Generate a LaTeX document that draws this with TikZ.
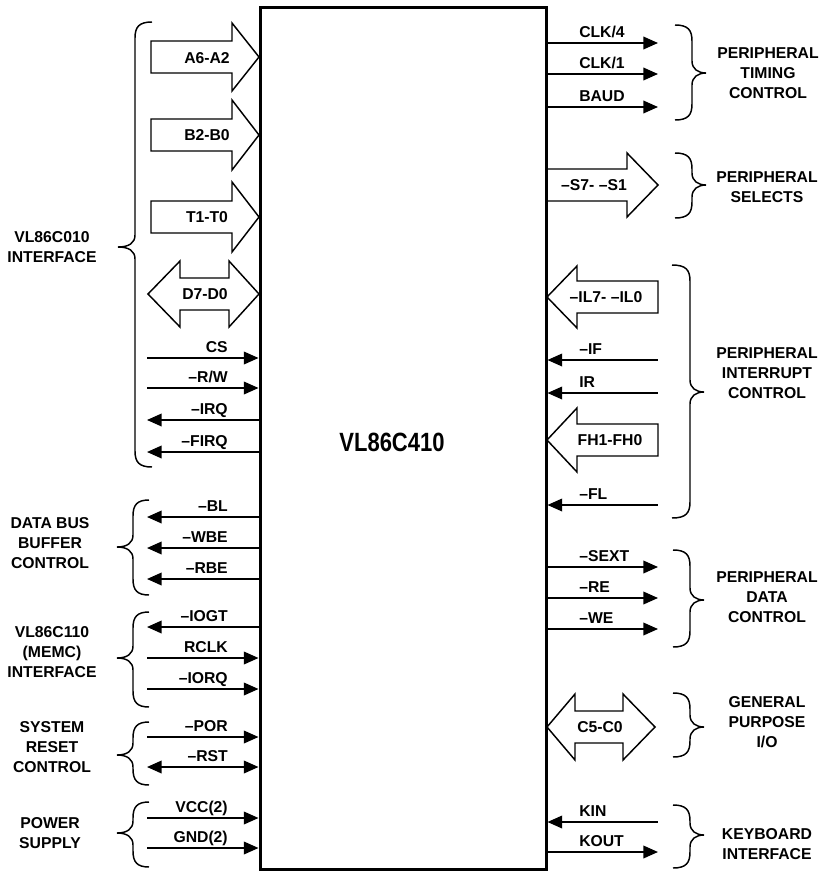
\documentclass[tikz,border=0pt]{standalone}
\usepackage{fontspec}
\setmainfont{Liberation Sans}
\usetikzlibrary{arrows.meta}
\newcommand\Lsig[3]{%
  \coordinate (lc#1) at (147,#1);
  \draw[sig,#3] (lc#1) -- (chip.west |- lc#1);
  \node[lbl,anchor=base east] (lt#1) at (228,#1-6) {#2};}
\newcommand\Rsig[3]{%
  \coordinate (rc#1) at (658,#1);
  \draw[sig,#3] (chip.east |- rc#1) -- (rc#1);
  \node[lbl,anchor=base west] (rt#1) at (579,#1-6) {#2};}
% left brace: body x, end x, tip x, top y, tip y, bottom y
\newcommand\Lbr[6]{%
  \draw[brace] (#2,#4) .. controls (#1+4,#4) and (#1,#4+5) .. (#1,#4+16)
    -- (#1,#5-12) .. controls (#1,#5-4) and (#1-6,#5) .. (#3,#5)
    .. controls (#1-6,#5) and (#1,#5+4) .. (#1,#5+12)
    -- (#1,#6-16) .. controls (#1,#6-5) and (#1+4,#6) .. (#2,#6);}
\newcommand\Rbr[6]{%
  \draw[brace] (#2,#4) .. controls (#1-4,#4) and (#1,#4+5) .. (#1,#4+16)
    -- (#1,#5-12) .. controls (#1,#5-4) and (#1+6,#5) .. (#3,#5)
    .. controls (#1+6,#5) and (#1,#5+4) .. (#1,#5+12)
    -- (#1,#6-16) .. controls (#1,#6-5) and (#1-4,#6) .. (#2,#6);}
% fat arrow to the right: body start x, head back x, tip x, y, head half
\newcommand\FatR[5]{%
  \draw[fat] (#1,#4-16) -- (#2,#4-16) -- (#2,#4-#5) -- (#3,#4) -- (#2,#4+#5) -- (#2,#4+16) -- (#1,#4+16) -- cycle;}
% fat arrow to the left (tip at chip): tip x, head back x, body end x, y, head half
\newcommand\FatL[5]{%
  \draw[fat] (#1,#4) -- (#2,#4-#5) -- (#2,#4-16) -- (#3,#4-16) -- (#3,#4+16) -- (#2,#4+16) -- (#2,#4+#5) -- cycle;}
% double fat arrow: left tip, left back, right back, right tip, y, head half
\newcommand\FatD[6]{%
  \draw[fat] (#1,#5) -- (#2,#5-#6) -- (#2,#5-16) -- (#3,#5-16) -- (#3,#5-#6) -- (#4,#5)
    -- (#3,#5+#6) -- (#3,#5+16) -- (#2,#5+16) -- (#2,#5+#6) -- cycle;}
\begin{document}
\begin{tikzpicture}[x=0.75pt,y=-0.75pt,
  font=\bfseries\fontsize{11.8}{15}\selectfont,
  >={Triangle[length=11pt,width=9.5pt]},
  sig/.style={line width=1.2pt},
  fat/.style={line width=1.1pt,line join=miter},
  brace/.style={line width=1.1pt},
  lbl/.style={inner sep=0pt},
  grp/.style={align=center,inner sep=0pt}]
\useasboundingbox (0,0) rectangle (826,882);
\node[draw,line width=2.25pt,minimum width=214.5pt,minimum height=646.5pt,inner sep=0pt] (chip) at (403,438) {};
\node[font=\bfseries\fontsize{16.5}{18}\selectfont] (title) at (392,442) {\scalebox{1}[1.2]{VL86C410}};

% left fat arrows
\FatR{151}{232}{259}{57}{34}
\node[lbl] (fa1) at (207,58) {A6-A2};
\FatR{151}{232}{259}{135}{35}
\node[lbl] (fa2) at (207,135) {B2-B0};
\FatR{151}{232}{259}{217}{35}
\node[lbl] (fa3) at (207,217) {T1-T0};
\FatD{148}{180}{229}{259}{294}{33}
\node[lbl] (fa4) at (205,294) {D7-D0};

% left signals
\Lsig{358}{CS}{->}
\Lsig{388}{–R/W}{->}
\Lsig{420}{–IRQ}{<-}
\Lsig{452}{–FIRQ}{<-}
\Lsig{517}{–BL}{<-}
\Lsig{548}{–WBE}{<-}
\Lsig{579}{–RBE}{<-}
\Lsig{627}{–IOGT}{<-}
\Lsig{658}{RCLK}{->}
\Lsig{689}{–IORQ}{->}
\Lsig{737}{–POR}{->}
\Lsig{767}{–RST}{<->}
\Lsig{818}{VCC(2)}{->}
\Lsig{848}{GND(2)}{->}

% left braces
\Lbr{135}{152}{118}{22}{247}{467}
\Lbr{133}{149}{117}{500}{547}{595}
\Lbr{133}{149}{117}{612}{658}{707}
\Lbr{133}{149}{117}{722}{755}{785}
\Lbr{133}{149}{117}{802}{833}{867}

\node[grp] (g1) at (52,247) {VL86C010\\INTERFACE};
\node[grp] (g2) at (50,543) {DATA BUS\\BUFFER\\CONTROL};
\node[grp] (g3) at (52,652) {VL86C110\\(MEMC)\\INTERFACE};
\node[grp] (g4) at (52,747) {SYSTEM\\RESET\\CONTROL};
\node[grp] (g5) at (50,833) {POWER\\SUPPLY};

% right signals
\Rsig{43}{CLK/4}{->}
\Rsig{74}{CLK/1}{->}
\Rsig{107}{BAUD}{->}
\Rsig{360}{–IF}{<-}
\Rsig{393}{IR}{<-}
\Rsig{505}{–FL}{<-}
\Rsig{567}{–SEXT}{->}
\Rsig{598}{–RE}{->}
\Rsig{629}{–WE}{->}
\Rsig{822}{KIN}{<-}
\Rsig{852}{KOUT}{->}

% right fat arrows
\draw[fat] (547,169) -- (627,169) -- (627,153) -- (658,185) -- (627,217) -- (627,201) -- (547,201);
\node[lbl] (fb1) at (594,185) {–S7- –S1};
\FatL{547}{577}{658}{297}{31}
\node[lbl] (fb2) at (606,297) {–IL7- –IL0};
\FatL{547}{577}{658}{440}{32}
\node[lbl] (fb3) at (610,440) {FH1-FH0};
\FatD{547}{575}{623}{655}{727}{33}
\node[lbl] (fb4) at (600,727) {C5-C0};

% right braces
\Rbr{692}{675}{706}{25}{73}{120}
\Rbr{692}{675}{706}{153}{185}{218}
\Rbr{690}{672}{704}{265}{392}{518}
\Rbr{690}{673}{704}{550}{600}{647}
\Rbr{690}{673}{704}{693}{727}{757}
\Rbr{690}{673}{704}{805}{835}{868}

\node[grp] (h1) at (768,73) {PERIPHERAL\\TIMING\\CONTROL};
\node[grp] (h2) at (767,187) {PERIPHERAL\\SELECTS};
\node[grp] (h3) at (767,373) {PERIPHERAL\\INTERRUPT\\CONTROL};
\node[grp] (h4) at (767,597) {PERIPHERAL\\DATA\\CONTROL};
\node[grp] (h5) at (767,722) {GENERAL\\PURPOSE\\I/O};
\node[grp] (h6) at (767,844) {KEYBOARD\\INTERFACE};
\end{tikzpicture}
\end{document}
